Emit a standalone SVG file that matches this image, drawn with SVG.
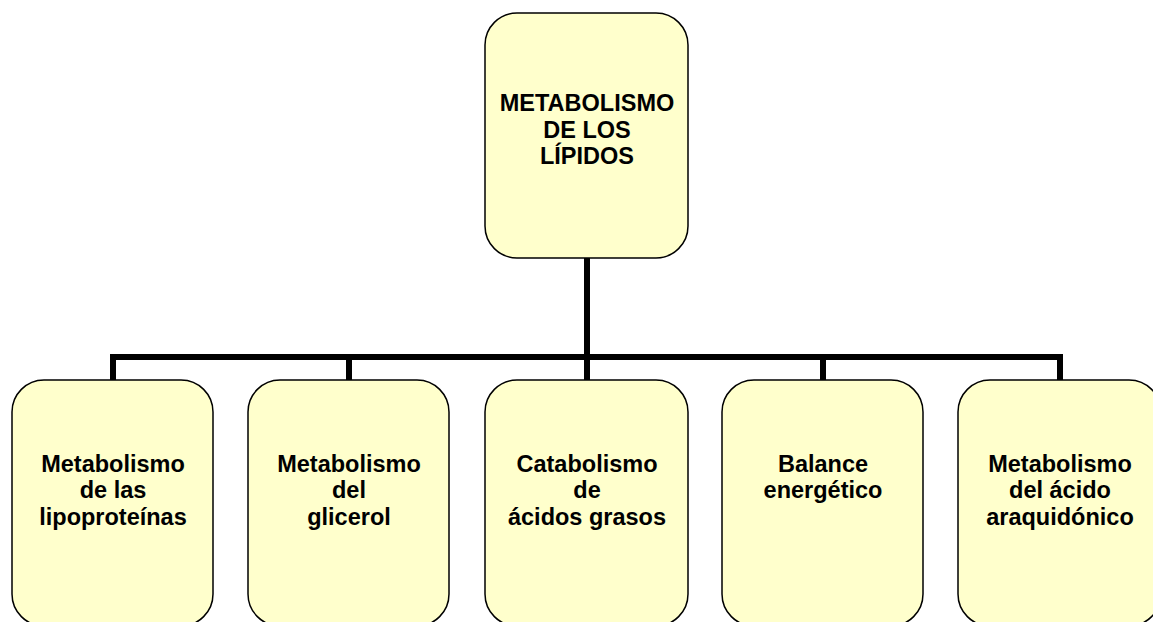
<svg xmlns="http://www.w3.org/2000/svg" width="1153" height="622" viewBox="0 0 1153 622">
<style>
.box{fill:#FFFFCC;stroke:#000;stroke-width:1.5}
.t{font-family:"Liberation Sans",Arial,sans-serif;font-weight:bold;font-size:23.5px;fill:#000;text-anchor:middle}
.c{fill:none;stroke:#000;stroke-width:6;stroke-linejoin:miter;stroke-linecap:butt}
</style>
<rect width="1153" height="622" fill="#fff"/>
<g id="connectors">
<path class="c" d="M587 258 V357"/>
<path class="c" d="M113 380 V357 H1060 V380"/>
<path class="c" d="M349 357 V380 M587 357 V380 M823 357 V380"/>
</g>
<g id="root">
<rect class="box" x="485" y="13" width="203" height="245" rx="32" ry="32"/>
<text class="t" x="587" y="111">METABOLISMO</text>
<text class="t" x="587" y="137.5">DE LOS</text>
<text class="t" x="587" y="164">LÍPIDOS</text>
</g>
<g id="n1">
<rect class="box" x="12" y="380" width="201" height="246" rx="32" ry="32"/>
<text class="t" x="113" y="471.5">Metabolismo</text>
<text class="t" x="113" y="498">de las</text>
<text class="t" x="113" y="524.5">lipoproteínas</text>
</g>
<g id="n2">
<rect class="box" x="248" y="380" width="201" height="246" rx="32" ry="32"/>
<text class="t" x="349" y="471.5">Metabolismo</text>
<text class="t" x="349" y="498">del</text>
<text class="t" x="349" y="524.5">glicerol</text>
</g>
<g id="n3">
<rect class="box" x="485" y="380" width="203" height="246" rx="32" ry="32"/>
<text class="t" x="587" y="471.5">Catabolismo</text>
<text class="t" x="587" y="498">de</text>
<text class="t" x="587" y="524.5">ácidos grasos</text>
</g>
<g id="n4">
<rect class="box" x="722" y="380" width="201" height="246" rx="32" ry="32"/>
<text class="t" x="823" y="471.5">Balance</text>
<text class="t" x="823" y="498">energético</text>
</g>
<g id="n5">
<rect class="box" x="958" y="380" width="203" height="246" rx="32" ry="32"/>
<text class="t" x="1060" y="471.5">Metabolismo</text>
<text class="t" x="1060" y="498">del ácido</text>
<text class="t" x="1060" y="524.5">araquidónico</text>
</g>
</svg>
